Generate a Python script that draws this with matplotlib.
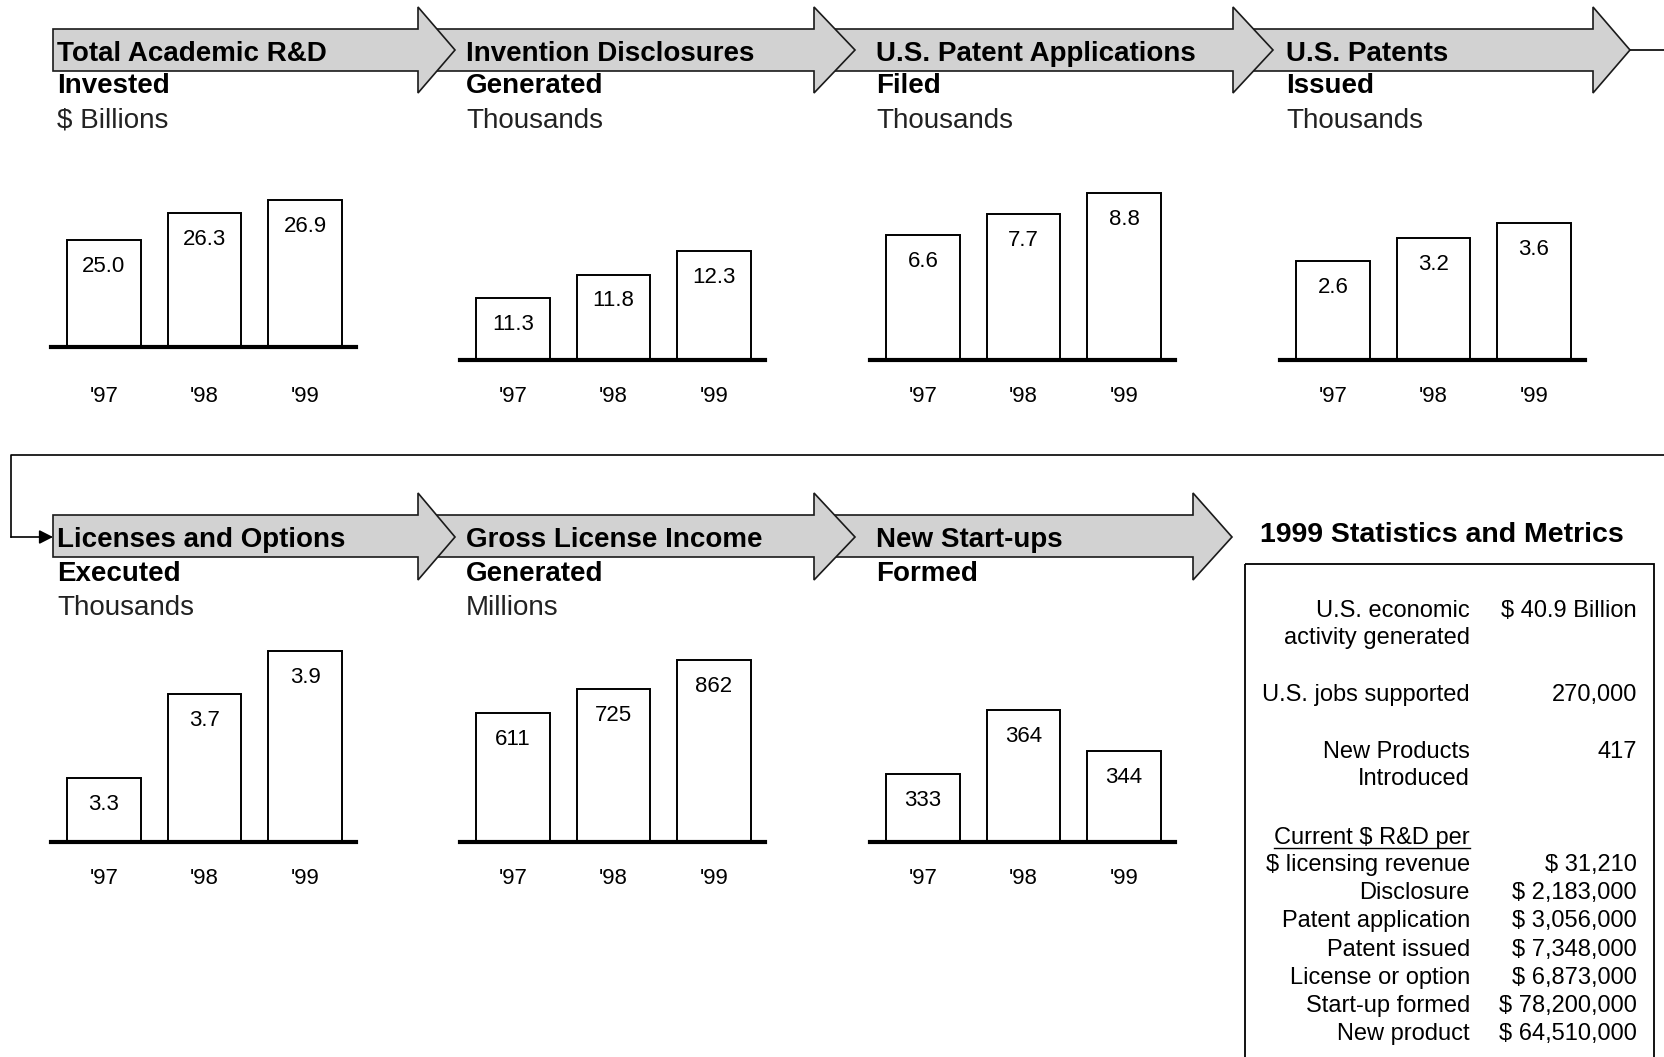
import matplotlib.pyplot as plt
import matplotlib.transforms as mtransforms
from matplotlib.patches import Polygon, Rectangle

plt.rcParams['font.family'] = ['Liberation Sans', 'DejaVu Sans']

W, H = 1665, 1057

# --- data -------------------------------------------------------------
years = ["'97", "'98", "'99"]

rd_invested = [25.0, 26.3, 26.9]
disclosures = [11.3, 11.8, 12.3]
applications = [6.6, 7.7, 8.8]
patents = [2.6, 3.2, 3.6]
licenses = [3.3, 3.7, 3.9]
license_income = [611, 725, 862]
startups = [333, 364, 344]

titles = ["Total Academic R&D", "Invention Disclosures", "U.S. Patent Applications",
          "U.S. Patents", "Licenses and Options", "Gross License Income", "New Start-ups"]
verbs = ["Invested", "Generated", "Filed", "Issued", "Executed", "Generated", "Formed"]
units = ["$ Billions", "Thousands", "Thousands", "Thousands", "Thousands", "Millions", ""]

stats_title = "1999 Statistics and Metrics"
stat_labels = [["U.S. economic", "activity generated"], ["U.S. jobs supported"],
               ["New Products", "Introduced"]]
stat_values = ["$ 40.9 Billion", "270,000", "417"]
cost_header = "Current $ R&D per"
cost_labels = ["$ licensing revenue", "Disclosure", "Patent application", "Patent issued",
               "License or option", "Start-up formed", "New product"]
cost_values = ["$ 31,210", "$ 2,183,000", "$ 3,056,000", "$ 7,348,000",
               "$ 6,873,000", "$ 78,200,000", "$ 64,510,000"]

# --- layout (pixels) --------------------------------------------------
# series, label format, y range, left x, baseline y, top y, row
panels = [
    (rd_invested, '{:.1f}', (20, 28.3), 51, 347, 170, 0),
    (disclosures, '{:.1f}', (10, 14), 460, 360, 170, 0),
    (applications, '{:.1f}', (0, 10), 870, 360, 170, 0),
    (patents, '{:.1f}', (0, 5), 1280, 360, 170, 0),
    (licenses, '{:.1f}', (3, 4), 51, 842, 630, 1),
    (license_income, '{:.0f}', (0, 1005), 460, 842, 630, 1),
    (startups, '{:.0f}', (300, 403), 870, 842, 630, 1),
]
row_text_y = [(61, 93, 128), (547, 581, 615)]
row_tick_y = [402, 884]
row_arrows = [
    [(53, 418, 455), (430, 814, 855), (826, 1233, 1273), (1245, 1593, 1630)],
    [(53, 418, 455), (430, 814, 855), (826, 1193, 1232)],
]
row_arrow_y = [(29, 71, 7, 93, 50), (515, 557, 493, 580, 537)]

fig = plt.figure(figsize=(W / 100, H / 100), dpi=100)
fig.patch.set_facecolor('white')

canvas = fig.add_axes([0, 0, 1, 1])
canvas.set_xlim(0, W)
canvas.set_ylim(H, 0)
canvas.axis('off')

# block arrows, drawn right to left so each head sits over the next body
for row, arrows in enumerate(row_arrows):
    bt, bb, ht, hb, yc = row_arrow_y[row]
    for k, (xl, xh, tip) in enumerate(arrows):
        pts = [(xl, bt), (xh, bt), (xh, ht), (tip, yc), (xh, hb), (xh, bb), (xl, bb)]
        canvas.add_patch(Polygon(pts, closed=True, facecolor='#d2d2d2',
                                 edgecolor='#1a1a1a', lw=1.2, zorder=10 - k))

# connector from the first row to the second
canvas.plot([1630, W], [50, 50], color='black', lw=1.2)
canvas.plot([W, 11, 11], [455, 455, 537], color='black', lw=1.2)
canvas.annotate('', xy=(53, 537), xytext=(11, 537),
                arrowprops=dict(arrowstyle='-|>,head_length=0.55,head_width=0.28',
                                mutation_scale=15, color='black', lw=1.2,
                                shrinkA=0, shrinkB=0))

# small bar charts
for i, (vals, fmt, ylim, x0, ybase, ytop, row) in enumerate(panels):
    ax = fig.add_axes([x0 / W, 1 - ybase / H, 305 / W, (ybase - ytop) / H])
    ax.patch.set_visible(False)
    ax.bar(range(3), vals, width=0.727, facecolor='white', edgecolor='black', lw=1.4)
    ax.set_xlim(-0.527, 2.507)
    ax.set_ylim(*ylim)
    ax.set_xticks([])
    ax.set_yticks([])
    for s in ('top', 'left', 'right'):
        ax.spines[s].set_visible(False)
    ax.spines['bottom'].set_linewidth(3)
    for j, v in enumerate(vals):
        ax.annotate(fmt.format(v), xy=(j, v), xytext=(0, -23), textcoords='offset points',
                    ha='center', va='baseline', fontsize=16)
    blend = mtransforms.blended_transform_factory(ax.transData, canvas.transData)
    for j, yr in enumerate(years):
        ax.text(j, row_tick_y[row], yr, transform=blend, ha='center', va='baseline',
                fontsize=16, clip_on=False)

    ty1, ty2, ty3 = row_text_y[row]
    canvas.text(x0 + 6, ty1, titles[i], fontsize=20, fontweight='bold',
                va='baseline', zorder=20)
    canvas.text(x0 + 6, ty2, verbs[i], fontsize=20, fontweight='bold',
                va='baseline', zorder=20)
    if units[i]:
        canvas.text(x0 + 6, ty3, units[i], fontsize=20, color='#222222',
                    va='baseline', zorder=20)

# 1999 statistics box
canvas.text(1260, 542, stats_title, fontsize=20.5, fontweight='bold', va='baseline')
canvas.add_patch(Rectangle((1245, 564), 409, 560, facecolor='none',
                           edgecolor='black', lw=1.3))

lx, vx = 1470, 1637
fs = 17
stat_y = [(617, 644), (701,), (758, 785)]
for lines, ys, val in zip(stat_labels, stat_y, stat_values):
    for line, y in zip(lines, ys):
        canvas.text(lx, y, line, fontsize=fs, ha='right', va='baseline')
    canvas.text(vx, ys[0], val, fontsize=fs, ha='right', va='baseline')

hdr = canvas.text(lx, 844, cost_header, fontsize=fs, ha='right', va='baseline')
fig.canvas.draw()
bb = hdr.get_window_extent().transformed(canvas.transData.inverted())
canvas.plot([bb.x0, bb.x1], [848, 848], color='black', lw=1)

for k, (lab, val) in enumerate(zip(cost_labels, cost_values)):
    y = 871 + k * 28.2
    canvas.text(lx, y, lab, fontsize=fs, ha='right', va='baseline')
    canvas.text(vx, y, val, fontsize=fs, ha='right', va='baseline')

fig.savefig('out.png', dpi=100)
